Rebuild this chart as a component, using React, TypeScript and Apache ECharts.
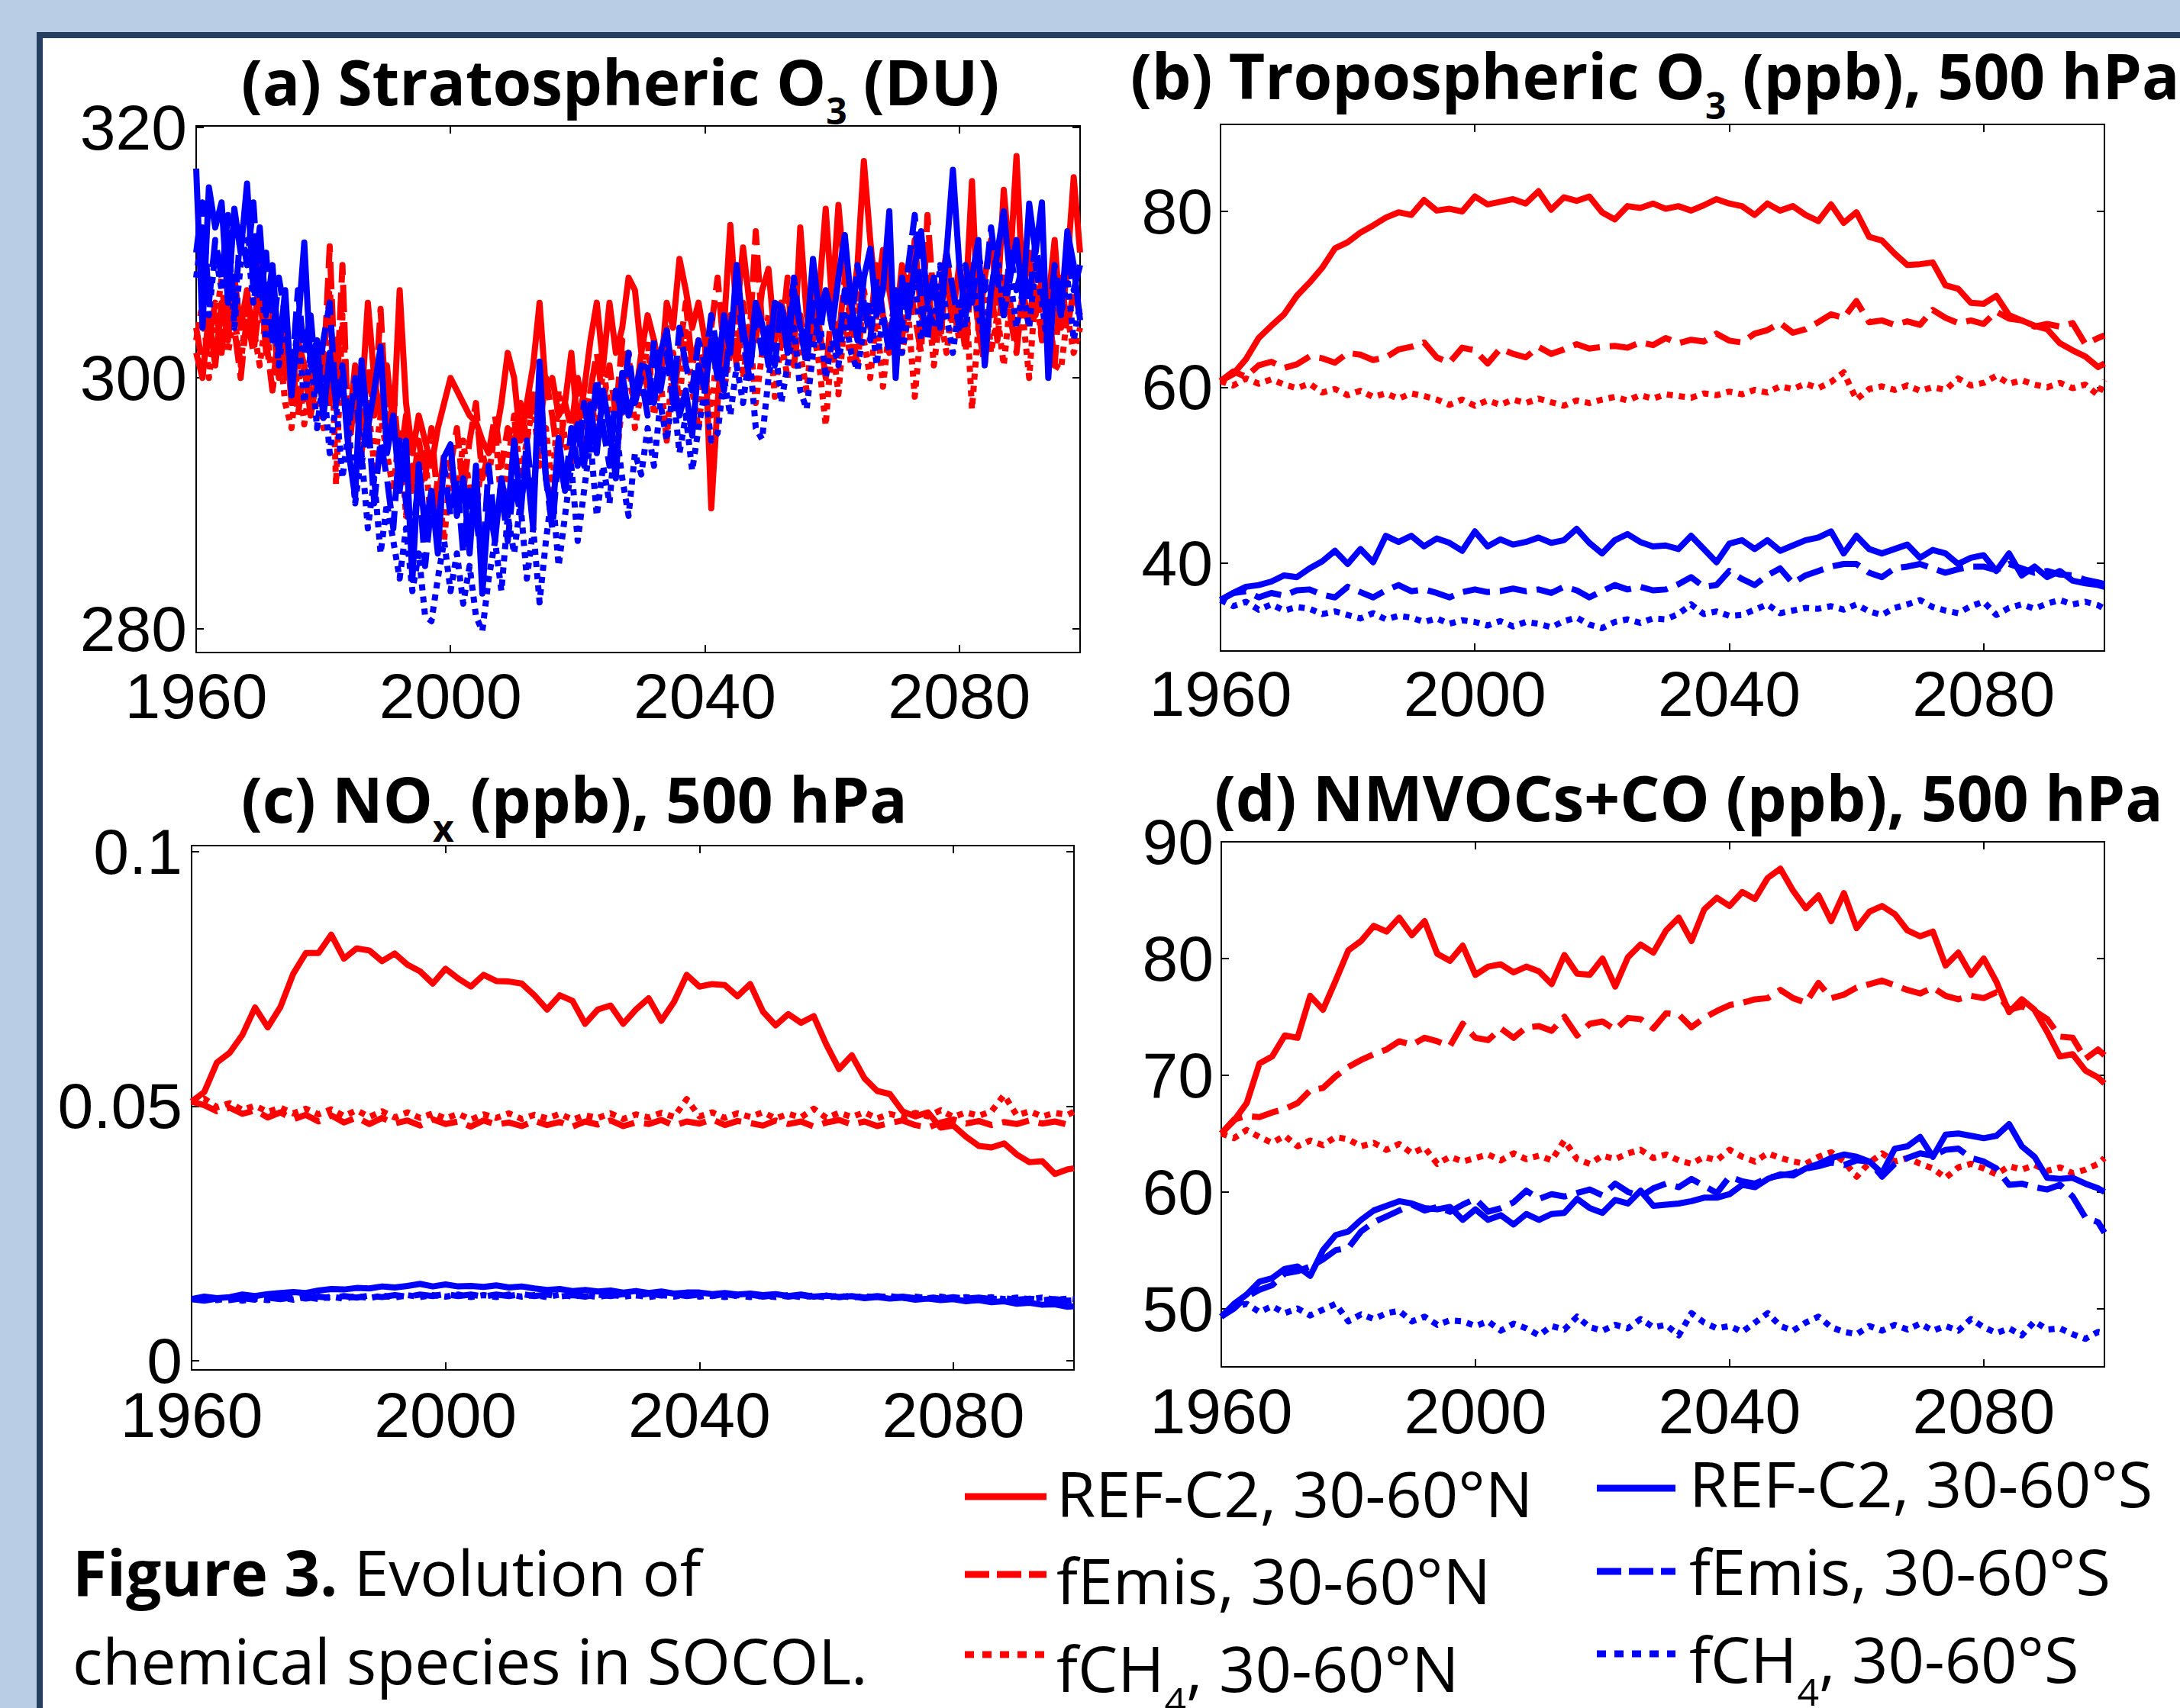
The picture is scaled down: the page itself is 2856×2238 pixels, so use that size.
import React, { useEffect, useRef } from 'react';
import * as echarts from 'echarts';

// ---------- x coordinates ----------
const YEARS_A: number[] = [];
for (let y = 1960; y <= 2099; y++) YEARS_A.push(y);
const YEARS_B: number[] = [];
for (let y = 1960; y <= 2098; y += 2) YEARS_B.push(y);
YEARS_B.push(2099);

const X_TICKS = [1960, 2000, 2040, 2080];

// ---------- (a) Stratospheric O3 (DU), annual ----------
const A_REF_N = [
  302, 300, 305, 301, 306, 303, 308, 304, 307, 303,
  309, 302, 305, 300, 304, 298, 303, 301, 297, 300,
  302, 298, 303, 299, 296, 301, 298, 306, 300, 297,
  301, 296, 307, 298, 294, 297, 295, 293, 296, 298,
  300, 299, 298, 297, 296.5, 295, 294, 295, 298, 302,
  300, 295, 298, 301, 306, 299, 300, 297, 298, 302,
  296, 299, 303, 306, 301, 306, 302, 304, 308, 307,
  302, 305, 303, 300, 306, 304, 309.5, 307, 304, 306,
  303, 289.6, 298, 304, 312.2, 305, 310.4, 306, 303, 307,
  308.7, 303, 306, 304, 302, 312, 305, 303, 307, 313.5,
  306, 313.8, 308, 305, 309, 317.3, 311, 306, 310.2, 307,
  304, 309, 306, 311, 305, 308, 303, 307, 310, 305,
  309, 306, 315.7, 304, 308, 311, 306, 315, 309, 317.7,
  307, 310, 305, 308, 306, 311, 304, 309, 316, 310,
];
const A_EMIS_N = [
  304, 301, 303, 306, 302, 307, 304, 300, 305, 302,
  306, 303, 299, 304, 300, 302, 297, 301, 298, 303,
  300, 310.5, 298, 309, 294, 299, 296, 301, 297, 305.5,
  296, 299, 293, 297, 291, 295, 292, 296, 290, 294,
  293, 296, 291, 295, 298, 292, 294, 297, 293, 296,
  294, 298, 295, 299, 296, 300, 297, 293, 298, 296,
  300, 297, 299, 302, 298, 301, 297, 303, 300, 298,
  302, 299, 303, 300, 304, 298, 302, 306, 301, 303,
  300, 304, 308, 302, 305, 301, 306, 303, 311.7, 304,
  302, 306, 303, 308, 301, 305, 302, 307, 304, 300,
  306, 303, 308, 304, 301, 307, 304, 309, 305, 302,
  306, 303, 308, 305, 302, 313, 306, 303, 308, 304,
  306, 302, 309, 304, 301, 307, 303, 308, 305, 302,
  307, 304, 309, 303, 306, 301, 308, 304, 307, 305,
];
const A_CH4_N = [
  303, 306, 300, 304, 308, 302, 305, 301, 306, 304,
  301, 305, 299, 303, 298, 296, 301, 296.3, 300, 298,
  296, 308, 291.5, 305, 296, 299, 294, 298, 293, 297,
  294, 291, 296, 289, 293, 290, 294, 288, 292, 287,
  293, 290, 295, 291, 289, 294, 292, 296, 290, 293,
  297, 292, 295, 298, 293, 296, 291, 299, 295, 293,
  297, 294, 299, 295, 301, 297, 293, 298, 302, 296,
  299, 303, 297, 300, 295, 302, 298, 304, 299, 296,
  301, 297, 303, 299, 302, 305, 300, 304, 298, 302,
  305, 298.5, 303, 300, 306, 302, 299, 304, 301, 296.2,
  303, 298.7, 305, 301, 307, 303, 300, 305, 299.3, 304,
  306, 302, 305, 298.5, 304, 307, 301, 305, 302, 306,
  303, 307, 297.5, 304, 308, 302, 305, 301, 306, 303,
  305, 300, 307, 303, 306, 301, 300.7, 305, 302, 304,
];
const A_REF_S = [
  316.7, 304, 315.2, 312, 314, 306, 313.5, 310, 315.5, 307,
  312, 305, 309, 302, 307, 298.6, 304, 310.8, 301, 303,
  296.8, 302, 298, 300, 294, 290.5, 301.4, 296, 299, 302.5,
  294, 297, 291, 295, 283.9, 293.1, 288, 291, 286, 293.7,
  294.7, 289, 292, 286, 293, 282.8, 290, 287, 292, 289,
  295, 290, 293, 288, 301.3, 292, 289, 295.2, 291, 294,
  296.3, 293, 297.9, 294, 299, 296, 292, 300.4, 297, 299,
  301, 300.8, 298, 302, 303.8, 300, 297, 299, 295.4, 301,
  299, 303, 300, 305, 302, 309, 304, 301, 306, 304.3,
  301, 306, 305.7, 302, 307, 304, 303, 309.5, 305, 307,
  304, 308, 311.4, 306, 303, 308, 310.3, 305, 307, 313.3,
  300, 308, 305, 309, 311.7, 306, 308, 304, 310, 316.6,
  309, 305, 308, 311, 301, 307, 310, 313.3, 308, 311,
  306, 313.9, 310, 314, 300, 308, 305, 311.7, 309, 304.6,
];
const A_EMIS_S = [
  310, 314, 306, 311, 308, 313, 305, 312, 309, 314,
  306, 310, 303, 308, 305, 300, 307, 302, 305, 299,
  303, 306, 298, 301, 296, 300, 293, 297, 290, 295,
  292, 288, 295, 290, 287, 292, 285, 290, 288, 293,
  289, 292, 286, 291, 289, 285, 293, 288, 291, 287,
  292, 289, 295, 290, 298, 292, 288, 294, 291, 296,
  293, 298, 295, 300, 296, 293, 299, 297, 302, 298,
  300, 297, 303, 299, 302, 298, 304, 301, 299, 303,
  301, 305, 302, 299, 304, 307, 303, 300, 305, 302,
  304, 301, 306, 303, 308, 304, 301, 306, 303, 307,
  305, 302, 307, 304, 309, 306, 303, 308, 305, 302,
  307, 304, 309, 313, 306, 303, 308, 305, 310, 307,
  304, 309, 306, 310, 307, 312, 308, 305, 310, 307,
  309, 306, 311, 307, 304, 309, 306, 310, 307, 309,
];
const A_CH4_S = [
  308, 312, 305, 310, 307, 312, 304, 309, 311, 306,
  309, 303, 307, 301, 305, 300, 304, 298, 302, 296,
  300, 294, 298, 292, 296, 290, 294, 288, 292, 286,
  290, 287, 284, 288, 283, 286, 281, 280.6, 284, 287,
  283, 286, 282, 285, 281, 279.8, 284, 287, 283, 289,
  286, 290, 284, 288, 282.1, 287, 291, 285, 289, 293,
  287, 291, 295, 289, 293, 290, 296, 292, 289, 294,
  292.3, 296, 293, 298, 295, 299, 294, 297, 292.6, 296,
  299, 295, 295.6, 300, 297, 301, 298, 302, 296, 295.1,
  300, 303, 298, 301, 304, 299, 297.5, 302, 305, 300,
  303, 301, 305, 302, 300.6, 304, 306, 301, 305, 303,
  306, 302, 305, 308, 303, 306, 304, 309, 305, 302,
  306, 304, 308, 305, 303, 307, 310, 305, 308, 304,
  307, 304, 309, 306, 302, 307, 305, 308, 303, 306,
];

// ---------- (b) Tropospheric O3 (ppb), 500 hPa, biennial ----------
const B_REF_N = [
  60.7, 61.5, 63.2, 65.6, 67.0, 68.3, 70.4, 71.9, 73.6, 75.8,
  76.5, 77.6, 78.4, 79.3, 79.9, 79.6, 81.3, 80.1, 80.3, 80.0,
  81.7, 80.8, 81.1, 81.4, 80.9, 82.3, 80.2, 81.6, 81.2, 81.7,
  79.9, 79.1, 80.6, 80.4, 80.9, 80.3, 80.6, 80.1, 80.7, 81.4,
  80.9, 80.6, 79.6, 80.9, 80.1, 80.6, 79.6, 78.9, 80.8, 78.7,
  79.9, 77.1, 76.7, 75.2, 73.9, 74.0, 74.2, 71.6, 71.2, 69.6,
  69.5, 70.4, 68.2, 67.6, 67.0, 66.6, 65.0, 64.2, 63.5, 62.3,
  62.7,
];
const B_EMIS_N = [
  60.7, 61.8, 61.2, 62.5, 62.9, 62.2, 62.6, 63.5, 63.3, 62.8,
  63.9, 63.7, 63.1, 63.4, 64.3, 64.6, 65.1, 63.4, 62.8, 64.5,
  64.2, 62.7, 64.4, 63.8, 63.4, 64.6, 63.8, 64.3, 64.9, 64.4,
  64.6, 64.7, 64.5, 65.1, 64.8, 65.6, 65.0, 65.4, 65.2, 66.1,
  65.3, 65.1, 66.1, 66.5, 67.3, 66.2, 66.6, 67.4, 68.3, 67.9,
  69.8, 67.4, 67.6, 67.1, 67.5, 67.1, 68.8, 67.9, 67.3, 67.6,
  67.2, 68.6, 67.8, 67.6, 66.9, 67.2, 66.9, 67.3, 64.9, 65.6,
  65.9,
];
const B_CH4_N = [
  60.7, 60.2, 61.0, 60.4, 60.9, 60.3, 59.9, 60.4, 59.4, 59.8,
  59.1, 59.6, 58.9, 59.3, 58.7, 59.3, 59.0, 58.6, 58.0, 58.6,
  57.9, 58.5, 58.0, 58.6, 58.2, 58.7, 58.3, 57.9, 58.5, 58.2,
  58.6, 58.9, 58.5, 59.1, 58.7, 59.2, 59.0, 58.8, 59.3, 59.1,
  59.5, 59.2, 59.7, 59.4, 60.1, 59.8, 60.4, 59.9, 60.6, 61.7,
  58.6, 59.8, 60.1, 59.7, 60.2, 59.6, 60.0, 59.7, 61.0, 60.2,
  60.5, 61.3, 60.4, 60.8, 60.3, 60.0, 60.5, 59.9, 60.3, 59.1,
  60.8,
];
const B_REF_S = [
  35.8, 36.6, 37.3, 37.5, 37.9, 38.6, 38.4, 39.4, 40.2, 41.4,
  39.9, 41.6, 40.1, 43.1, 42.4, 43.1, 41.9, 42.8, 42.3, 41.4,
  43.6, 41.9, 42.7, 42.1, 42.4, 42.9, 42.3, 42.6, 43.9, 42.3,
  41.1, 42.6, 43.3, 42.4, 41.9, 42.0, 41.6, 43.1, 41.6, 40.1,
  42.2, 42.6, 41.6, 42.6, 41.4, 42.0, 42.6, 42.9, 43.6, 41.1,
  43.1, 41.6, 41.1, 41.6, 42.1, 40.6, 41.5, 41.1, 39.9, 40.6,
  40.9, 39.1, 41.1, 38.6, 39.6, 38.4, 39.1, 38.0, 37.7, 37.5,
  37.3,
];
const B_EMIS_S = [
  35.8, 36.6, 36.8, 36.1, 36.6, 36.3, 36.9, 37.0, 36.4, 36.1,
  37.3, 36.7, 36.1, 36.9, 37.5, 36.8, 37.0, 36.6, 36.1, 36.7,
  37.0, 36.7, 36.8, 37.1, 36.8, 37.0, 36.6, 37.3, 36.9, 36.1,
  36.8, 37.5, 37.0, 37.3, 36.9, 37.0, 37.6, 38.4, 37.3, 37.5,
  39.1, 38.2, 37.5, 38.6, 39.4, 37.7, 38.6, 39.1, 39.6, 39.9,
  39.9, 38.9, 38.4, 39.4, 39.6, 39.9, 39.4, 38.9, 39.3, 39.6,
  39.6, 39.2, 39.9, 39.4, 38.9, 39.1, 38.7, 38.6, 38.1, 37.8,
  37.6,
];
const B_CH4_S = [
  35.8, 35.1, 35.6, 34.7, 35.3, 34.6, 35.0, 34.8, 34.2, 34.5,
  34.1, 33.7, 34.3, 33.6, 34.0, 33.8, 33.3, 33.7, 33.1, 33.5,
  33.3, 32.9, 33.4, 32.8, 33.3, 33.1, 32.7, 33.4, 33.8, 33.0,
  32.6, 33.3, 33.6, 33.2, 33.7, 33.6, 34.2, 35.3, 34.2, 34.5,
  34.0, 34.1, 34.7, 35.3, 34.3, 34.6, 34.9, 34.8, 35.1, 34.7,
  35.3, 34.5, 34.1, 34.9, 35.3, 35.8, 35.0, 34.6, 34.3, 35.1,
  35.6, 34.1, 34.9, 35.3, 34.8, 35.4, 35.8, 35.3, 35.6, 35.2,
  34.8,
];

// ---------- (c) NOx (ppb), 500 hPa, biennial ----------
const C_REF_N = [
  0.0509, 0.0528, 0.0586, 0.0605, 0.0640, 0.0694, 0.0655, 0.0695, 0.0760, 0.0801,
  0.0801, 0.0837, 0.0790, 0.0810, 0.0806, 0.0785, 0.0800, 0.0778, 0.0765, 0.0741,
  0.0770, 0.0751, 0.0735, 0.0758, 0.0746, 0.0745, 0.0741, 0.0718, 0.0690, 0.0718,
  0.0707, 0.0662, 0.0690, 0.0698, 0.0662, 0.0690, 0.0712, 0.0668, 0.0705, 0.0758,
  0.0735, 0.0740, 0.0738, 0.0716, 0.0740, 0.0686, 0.0659, 0.0681, 0.0664, 0.0677,
  0.0621, 0.0573, 0.0600, 0.0555, 0.0530, 0.0524, 0.0490, 0.0480, 0.0488, 0.0458,
  0.0462, 0.0440, 0.0422, 0.0419, 0.0427, 0.0405, 0.0390, 0.0392, 0.0367, 0.0376,
  0.0378,
];
const C_EMIS_N = [
  0.0509, 0.0502, 0.0490, 0.0497, 0.0485, 0.0492, 0.0478, 0.0488, 0.0474, 0.0483,
  0.0470, 0.0482, 0.0468, 0.0478, 0.0465, 0.0477, 0.0466, 0.0472, 0.0462, 0.0474,
  0.0465, 0.0470, 0.0460, 0.0472, 0.0464, 0.0468, 0.0461, 0.0471, 0.0463, 0.0469,
  0.0460, 0.0470, 0.0464, 0.0472, 0.0461, 0.0468, 0.0465, 0.0473, 0.0462, 0.0470,
  0.0466, 0.0474, 0.0463, 0.0471, 0.0467, 0.0462, 0.0472, 0.0465, 0.0470, 0.0460,
  0.0468, 0.0473, 0.0464, 0.0470, 0.0461, 0.0467, 0.0472, 0.0463, 0.0458, 0.0468,
  0.0474, 0.0466, 0.0471, 0.0463, 0.0469, 0.0465, 0.0472, 0.0466, 0.0470, 0.0464,
  0.0469,
];
const C_CH4_N = [
  0.0509, 0.0515, 0.0498, 0.0506, 0.0493, 0.0501, 0.0489, 0.0497, 0.0486, 0.0495,
  0.0484, 0.0494, 0.0481, 0.0492, 0.0479, 0.0490, 0.0478, 0.0488, 0.0477, 0.0486,
  0.0476, 0.0485, 0.0474, 0.0484, 0.0477, 0.0486, 0.0475, 0.0483, 0.0476, 0.0485,
  0.0474, 0.0482, 0.0477, 0.0486, 0.0475, 0.0484, 0.0478, 0.0487, 0.0479, 0.0514,
  0.0480, 0.0488, 0.0477, 0.0486, 0.0479, 0.0488, 0.0476, 0.0485, 0.0478, 0.0495,
  0.0477, 0.0487, 0.0479, 0.0488, 0.0476, 0.0485, 0.0478, 0.0487, 0.0480, 0.0492,
  0.0479, 0.0488, 0.0481, 0.0490, 0.0522, 0.0482, 0.0490, 0.0480, 0.0487, 0.0483,
  0.0489,
];
const C_REF_S = [
  0.0121, 0.0126, 0.0123, 0.0125, 0.0130, 0.0127, 0.0131, 0.0133, 0.0135, 0.0133,
  0.0138, 0.0141, 0.0140, 0.0143, 0.0142, 0.0146, 0.0144, 0.0147, 0.0151, 0.0146,
  0.0150, 0.0146, 0.0147, 0.0145, 0.0148, 0.0144, 0.0146, 0.0142, 0.0139, 0.0141,
  0.0137, 0.0139, 0.0136, 0.0138, 0.0134, 0.0137, 0.0133, 0.0136, 0.0132, 0.0134,
  0.0134, 0.0131, 0.0133, 0.0130, 0.0132, 0.0129, 0.0131, 0.0127, 0.0130, 0.0126,
  0.0128, 0.0125, 0.0127, 0.0123, 0.0125, 0.0122, 0.0124, 0.0120, 0.0122, 0.0119,
  0.0121, 0.0117, 0.0119, 0.0115, 0.0117, 0.0112, 0.0114, 0.0110, 0.0111, 0.0106,
  0.0107,
];
const C_EMIS_S = [
  0.0121, 0.0118, 0.0122, 0.0119, 0.0123, 0.0120, 0.0124, 0.0121, 0.0125, 0.0122,
  0.0126, 0.0123, 0.0127, 0.0124, 0.0128, 0.0125, 0.0129, 0.0126, 0.0130, 0.0127,
  0.0131, 0.0127, 0.0130, 0.0126, 0.0130, 0.0127, 0.0131, 0.0127, 0.0130, 0.0126,
  0.0129, 0.0126, 0.0130, 0.0127, 0.0131, 0.0128, 0.0132, 0.0128, 0.0131, 0.0127,
  0.0130, 0.0127, 0.0131, 0.0127, 0.0130, 0.0126, 0.0129, 0.0126, 0.0129, 0.0125,
  0.0128, 0.0125, 0.0128, 0.0124, 0.0127, 0.0124, 0.0126, 0.0123, 0.0126, 0.0122,
  0.0125, 0.0122, 0.0124, 0.0121, 0.0123, 0.0120, 0.0122, 0.0119, 0.0121, 0.0118,
  0.0119,
];
const C_CH4_S = [
  0.0121, 0.0124, 0.0119, 0.0123, 0.0118, 0.0122, 0.0119, 0.0124, 0.0120, 0.0125,
  0.0121, 0.0126, 0.0122, 0.0127, 0.0123, 0.0128, 0.0124, 0.0129, 0.0125, 0.0129,
  0.0126, 0.0130, 0.0125, 0.0129, 0.0125, 0.0130, 0.0126, 0.0129, 0.0125, 0.0130,
  0.0126, 0.0129, 0.0125, 0.0130, 0.0126, 0.0129, 0.0125, 0.0129, 0.0126, 0.0130,
  0.0126, 0.0129, 0.0125, 0.0129, 0.0125, 0.0128, 0.0125, 0.0129, 0.0125, 0.0128,
  0.0124, 0.0128, 0.0124, 0.0127, 0.0124, 0.0127, 0.0123, 0.0126, 0.0123, 0.0126,
  0.0122, 0.0125, 0.0122, 0.0125, 0.0121, 0.0124, 0.0121, 0.0124, 0.0120, 0.0122,
  0.0121,
];

// ---------- (d) NMVOCs+CO (ppb), 500 hPa, biennial ----------
const D_REF_N = [
  65.0, 66.1, 67.6, 71.0, 71.6, 73.4, 73.2, 76.8, 75.6, 78.1,
  80.7, 81.5, 82.8, 82.3, 83.5, 82.0, 83.2, 80.4, 79.8, 81.1,
  78.6, 79.3, 79.5, 78.8, 79.3, 78.9, 77.8, 80.3, 78.7, 78.6,
  80.0, 77.6, 80.1, 81.2, 80.5, 82.4, 83.5, 81.5, 84.2, 85.2,
  84.5, 85.7, 85.1, 86.9, 87.7, 85.8, 84.3, 85.4, 83.2, 85.6,
  82.6, 84.0, 84.5, 83.8, 82.4, 81.9, 82.3, 79.4, 80.5, 78.6,
  80.0, 78.0, 75.4, 76.5, 75.6, 73.7, 71.6, 71.8, 70.4, 69.8,
  69.3,
];
const D_EMIS_N = [
  65.0, 66.2, 66.5, 66.4, 66.8, 67.1, 67.6, 68.7, 68.9, 69.9,
  70.7, 71.3, 71.8, 72.2, 72.9, 72.6, 73.2, 72.9, 72.5, 74.4,
  73.2, 73.0, 74.0, 73.2, 74.1, 74.2, 73.8, 75.0, 73.4, 74.4,
  74.6, 73.9, 74.9, 74.8, 74.0, 75.3, 75.2, 74.1, 74.9, 75.5,
  76.0, 76.2, 76.5, 76.6, 77.3, 76.6, 76.2, 77.9, 76.6, 76.9,
  77.5, 77.8, 78.1, 77.7, 77.3, 77.0, 77.5, 76.8, 76.5, 76.8,
  76.6, 77.1, 75.6, 75.9, 75.5, 74.8, 73.3, 73.2, 71.4, 72.2,
  71.7,
];
const D_CH4_N = [
  65.0, 64.6, 65.3, 64.7, 64.2, 64.8, 63.9, 64.4, 64.0, 64.7,
  64.5, 63.9, 64.2, 63.6, 64.1, 63.3, 63.8, 62.4, 63.0, 62.6,
  62.9, 63.2, 62.7, 63.3, 62.8, 63.1, 62.7, 64.4, 62.8, 62.4,
  63.1, 62.8, 63.3, 63.6, 62.9, 63.2, 62.7, 62.4, 63.0, 62.7,
  63.6, 63.0, 62.6, 63.3, 62.9, 62.6, 62.4, 63.0, 63.4, 62.6,
  61.3, 62.5, 63.3, 62.6, 62.9, 62.4, 62.0, 61.2, 62.1, 62.4,
  62.0, 61.5, 62.2, 61.9, 62.3, 61.8, 62.1, 61.6, 61.9, 62.4,
  62.9,
];
const D_REF_S = [
  49.3, 50.4, 51.2, 52.3, 52.6, 53.4, 53.6, 52.8, 55.0, 56.3,
  56.6, 57.6, 58.4, 58.8, 59.2, 59.0, 58.6, 58.5, 58.7, 57.6,
  58.5, 57.6, 58.0, 57.2, 58.1, 57.6, 58.1, 58.2, 59.4, 58.6,
  58.2, 59.3, 59.0, 60.1, 58.8, 58.9, 59.0, 59.2, 59.5, 59.5,
  59.8, 60.6, 60.4, 61.1, 61.5, 61.4, 62.0, 62.4, 62.9, 63.2,
  63.0, 62.6, 61.6, 63.7, 63.9, 64.7, 63.0, 64.9, 65.0, 64.8,
  64.6, 64.8, 65.8, 63.9, 63.0, 61.2, 61.1, 61.2, 60.7, 60.3,
  60.0,
];
const D_EMIS_S = [
  49.3, 50.0, 51.0, 51.6, 52.0, 53.0, 53.2, 53.6, 54.2, 55.0,
  55.2, 56.6, 57.4, 57.9, 58.4, 58.9, 58.4, 58.7, 58.3, 58.9,
  59.4, 58.3, 58.6, 59.1, 60.1, 59.4, 59.8, 59.6, 59.9, 60.2,
  59.7, 60.7, 60.0, 59.6, 60.3, 60.7, 60.4, 61.1, 60.5, 59.9,
  61.3, 60.9, 60.7, 61.2, 61.4, 61.6, 62.0, 62.2, 62.5, 62.3,
  62.7, 62.6, 61.3, 62.4, 62.9, 63.3, 63.1, 63.6, 63.7, 62.9,
  62.6, 62.0, 60.6, 60.7, 60.4, 60.2, 60.6, 59.6, 57.8, 57.4,
  56.5,
];
const D_CH4_S = [
  49.3, 50.1, 50.4, 49.7, 50.2, 49.6, 50.0, 49.4, 49.9, 50.4,
  48.9, 49.5, 49.1, 49.6, 49.8, 48.9, 49.3, 48.6, 49.0, 48.9,
  48.5, 48.9, 48.1, 48.7, 48.3, 47.7, 48.5, 48.2, 49.3, 48.4,
  48.1, 48.6, 48.3, 49.1, 48.4, 48.6, 47.7, 49.6, 48.8, 48.3,
  48.5, 48.0, 48.8, 49.6, 48.5, 48.1, 48.8, 49.3, 48.4, 48.0,
  47.8, 48.5, 48.1, 48.6, 48.2, 48.7, 48.1, 48.5, 48.1, 49.1,
  48.4, 47.9, 48.3, 47.7, 48.9, 48.2, 48.3, 47.8, 47.4, 48.0,
  47.9,
];

// ---------- axis ranges / ticks ----------
const Y_RANGES = [
  [278.1, 320.1],
  [30, 89.9],
  [-0.0018, 0.1012],
  [45, 90],
];
const Y_TICKS = [
  [280, 300, 320],
  [40, 60, 80],
  [0, 0.05, 0.1],
  [50, 60, 70, 80, 90],
];

const SERIES_NAMES = [
  'REF-C2, 30-60°N', 'fEmis, 30-60°N', 'fCH4, 30-60°N',
  'REF-C2, 30-60°S', 'fEmis, 30-60°S', 'fCH4, 30-60°S',
];

const PANEL_DATA = [
  { xs: YEARS_A, series: [A_REF_N, A_EMIS_N, A_CH4_N, A_REF_S, A_EMIS_S, A_CH4_S] },
  { xs: YEARS_B, series: [B_REF_N, B_EMIS_N, B_CH4_N, B_REF_S, B_EMIS_S, B_CH4_S] },
  { xs: YEARS_B, series: [C_REF_N, C_EMIS_N, C_CH4_N, C_REF_S, C_EMIS_S, C_CH4_S] },
  { xs: YEARS_B, series: [D_REF_N, D_EMIS_N, D_CH4_N, D_REF_S, D_EMIS_S, D_CH4_S] },
];

// ---------- layout & styles ----------
const LAYOUT = [
  { left: 257, top: 165, width: 1158, height: 690, xMargin: 15, yMargin: 12 },
  { left: 1599, top: 163, width: 1158, height: 690, xMargin: 14, yMargin: 10 },
  { left: 251, top: 1108, width: 1156, height: 687, xMargin: 17, yMargin: 12 },
  { left: 1600, top: 1103, width: 1157, height: 688, xMargin: 16, yMargin: 10 },
];

const RED = '#ff0000';
const BLUE = '#0000ff';
const DASH = [36, 13];
const DOT = [8, 8];
const LINE_STYLES: any[] = [
  { color: RED, type: 'solid' },
  { color: RED, type: DASH },
  { color: RED, type: DOT },
  { color: BLUE, type: 'solid' },
  { color: BLUE, type: DASH },
  { color: BLUE, type: DOT },
];

const TICK_FONT = 'Liberation Sans';
const TEXT_FONT = 'Open Sans';

let measureCtx: CanvasRenderingContext2D | null = null;
function textWidth(text: string, size: number, weight: string): number {
  if (!measureCtx) measureCtx = document.createElement('canvas').getContext('2d');
  if (!measureCtx) return text.length * size * 0.55;
  measureCtx.font = `${weight} ${size}px "${TEXT_FONT}"`;
  return measureCtx.measureText(text).width;
}

type Part = { t: string; sub?: boolean; bold?: boolean };

// Draw a run of text parts starting at x with a given alphabetic baseline.
function textRun(parts: Part[], x: number, baseline: number, size: number, subSize: number, subDrop: number, defaultBold: boolean) {
  const els: any[] = [];
  let cx = x;
  for (const p of parts) {
    const bold = p.bold !== undefined ? p.bold : defaultBold;
    const weight = bold ? 'bold' : 'normal';
    const fs = p.sub ? subSize : size;
    const cy = p.sub ? baseline + subDrop : baseline - 0.388 * size;
    els.push({
      type: 'text', x: cx, y: cy, z: 50,
      style: {
        text: p.t, fontFamily: TEXT_FONT, fontWeight: weight, fontSize: fs, fill: '#000',
        align: 'left', verticalAlign: 'middle',
      },
    });
    cx += textWidth(p.t, fs, weight);
  }
  return els;
}

function buildOption() {
  const grid: any[] = [];
  const xAxis: any[] = [];
  const yAxis: any[] = [];
  const series: any[] = [];

  LAYOUT.forEach((L, i) => {
    grid.push({ left: L.left, top: L.top, width: L.width, height: L.height, containLabel: false, outerBoundsMode: 'none' });
    const axLine = { show: true, onZero: false, lineStyle: { color: '#000', width: 2 } };
    const label = { fontFamily: TICK_FONT, fontSize: 84, color: '#000', formatter: (v: number) => String(v) };
    for (const pos of ['bottom', 'top']) {
      xAxis.push({
        type: 'value', gridIndex: i, position: pos, min: 1960, max: 2099,
        axisLine: axLine,
        axisTick: { show: true, inside: true, length: 10, customValues: X_TICKS, lineStyle: { color: '#000', width: 2 } },
        axisLabel: pos === 'bottom'
          ? { show: true, customValues: X_TICKS, margin: L.xMargin, ...label }
          : { show: false },
        splitLine: { show: false },
      });
    }
    for (const pos of ['left', 'right']) {
      yAxis.push({
        type: 'value', gridIndex: i, position: pos, min: Y_RANGES[i][0], max: Y_RANGES[i][1],
        axisLine: axLine,
        axisTick: { show: true, inside: true, length: 10, customValues: Y_TICKS[i], lineStyle: { color: '#000', width: 2 } },
        axisLabel: pos === 'left'
          ? { show: true, customValues: Y_TICKS[i], margin: L.yMargin, ...label }
          : { show: false },
        splitLine: { show: false },
      });
    }
    const P = PANEL_DATA[i];
    P.series.forEach((vals, k) => {
      series.push({
        type: 'line',
        name: SERIES_NAMES[k],
        xAxisIndex: 2 * i,
        yAxisIndex: 2 * i,
        data: P.xs.map((x, j) => [x, vals[j]]),
        showSymbol: false,
        symbol: 'none',
        silent: true,
        z: 2 + k * 0.01,
        lineStyle: { color: LINE_STYLES[k].color, width: 8, type: LINE_STYLES[k].type, cap: 'butt', join: 'round' },
        itemStyle: { color: LINE_STYLES[k].color },
      });
    });
  });

  const legLine = (x1: number, x2: number, y: number, color: string, dash: any) => ({
    type: 'line', z: 50,
    shape: { x1, y1: y, x2, y2: y },
    style: { stroke: color, lineWidth: 9, lineDash: dash, lineCap: 'butt' },
  });

  const TS = 82;   // title font size
  const TSUB = 48; // title subscript size
  const LS = 83;   // legend font size
  const LSUB = 50;

  const graphic: any[] = [
    {
      type: 'rect', z: -10,
      shape: { x: 52, y: 46, width: 3000, height: 2400 },
      style: { fill: '#ffffff', stroke: '#243f60', lineWidth: 8 },
    },
    ...textRun([{ t: '(a) Stratospheric O' }, { t: '3', sub: true }, { t: ' (DU)' }], 316, 137.6, TS, TSUB, 7, true),
    ...textRun([{ t: '(b) Tropospheric O' }, { t: '3', sub: true }, { t: ' (ppb), 500 hPa' }], 1481, 130, TS, TSUB, 7, true),
    ...textRun([{ t: '(c) NO' }, { t: 'x', sub: true }, { t: ' (ppb), 500 hPa' }], 316, 1077.4, TS, TSUB, 7, true),
    ...textRun([{ t: '(d) NMVOCs+CO (ppb), 500 hPa' }], 1591, 1076, TS, TSUB, 7, true),

    legLine(1264, 1371, 1961, RED, null),
    legLine(1264, 1371, 2063, RED, [32, 10]),
    legLine(1264, 1371, 2168, RED, [12, 11]),
    legLine(2092, 2195, 1950, BLUE, null),
    legLine(2092, 2195, 2059, BLUE, [32, 10]),
    legLine(2092, 2195, 2167, BLUE, [12, 11]),

    ...textRun([{ t: 'REF-C2, 30-60°N' }], 1384, 1988, LS, LSUB, 11, false),
    ...textRun([{ t: 'fEmis, 30-60°N' }], 1384, 2101.7, LS, LSUB, 11, false),
    ...textRun([{ t: 'fCH' }, { t: '4', sub: true }, { t: ', 30-60°N' }], 1384, 2216.7, LS, LSUB, 11, false),
    ...textRun([{ t: 'REF-C2, 30-60°S' }], 2213, 1975, LS, LSUB, 11, false),
    ...textRun([{ t: 'fEmis, 30-60°S' }], 2213, 2090, LS, LSUB, 11, false),
    ...textRun([{ t: 'fCH' }, { t: '4', sub: true }, { t: ', 30-60°S' }], 2213, 2205, LS, LSUB, 11, false),

    ...textRun([{ t: 'Figure 3.', bold: true }, { t: ' Evolution of' }], 95, 2090.5, 82, 50, 8, false),
    ...textRun([{ t: 'chemical species in SOCOL.' }], 95, 2207, 82, 50, 8, false),
  ];

  return {
    animation: false,
    backgroundColor: '#b9cde5',
    textStyle: { fontFamily: TICK_FONT },
    grid, xAxis, yAxis, series, graphic,
  };
}

export default function App() {
  const ref = useRef<HTMLDivElement>(null);
  useEffect(() => {
    if (!ref.current) return;
    const chart = echarts.init(ref.current, null, { renderer: 'svg', width: 2856, height: 2238 });
    chart.setOption(buildOption() as any);
    return () => chart.dispose();
  }, []);
  return (
    <div
      ref={ref}
      style={{ position: 'absolute', left: 0, top: 0, width: 2856, height: 2238 }}
    />
  );
}
